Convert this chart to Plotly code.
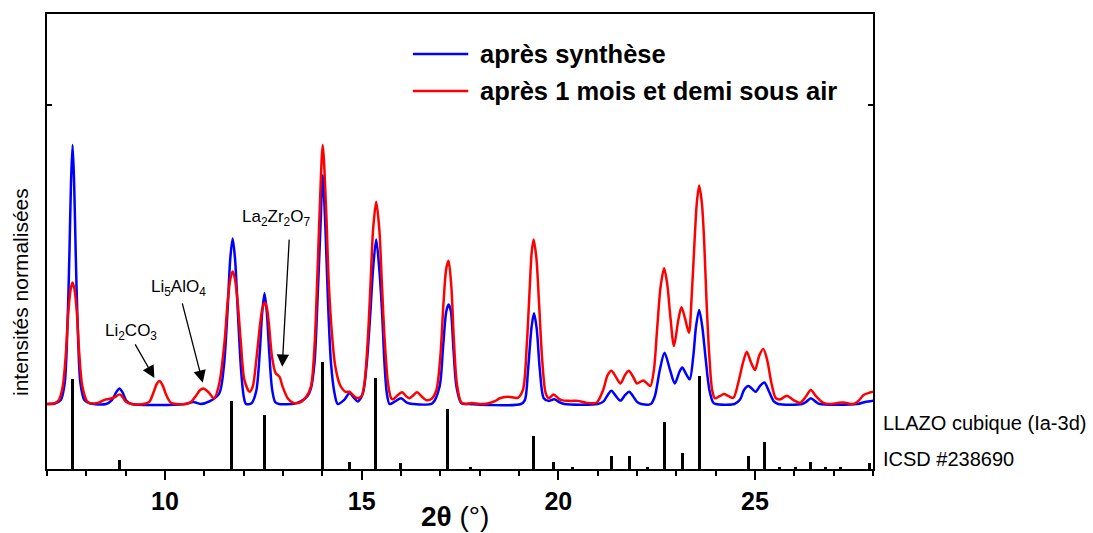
import plotly.graph_objects as go

# Diffractogram "après synthèse" (normalised intensity vs 2θ)
blue_x = [7.00, 7.20, 7.35, 7.45, 7.52, 7.57, 7.61, 7.65, 7.69, 7.73, 7.78, 7.85, 7.95, 8.10,
          8.50, 8.65, 8.76, 8.84, 8.92, 9.02, 9.15, 10.50, 10.72, 10.90,
          11.13, 11.38, 11.50, 11.59, 11.66, 11.72, 11.78, 11.85, 11.93, 12.00, 12.06,
          12.20, 12.32, 12.41, 12.47, 12.53, 12.59, 12.65, 12.72, 12.80, 12.90,
          13.30, 13.45, 13.62, 13.71, 13.80, 13.88, 13.95, 14.01, 14.08, 14.14, 14.22, 14.31, 14.39,
          14.55, 14.69, 14.80, 14.90,
          15.03, 15.13, 15.22, 15.29, 15.37, 15.45, 15.52, 15.58, 15.64, 15.71,
          15.85, 16.00, 16.15, 16.30,
          16.80, 16.98, 17.07, 17.15, 17.21, 17.27, 17.33, 17.41, 17.53, 17.70,
          19.05, 19.15, 19.23, 19.32, 19.38, 19.45, 19.53, 19.63, 19.75, 19.90, 20.05, 20.15,
          21.00, 21.15, 21.26, 21.35, 21.45, 21.58, 21.70, 21.80, 21.90, 22.00, 22.11,
          22.35, 22.45, 22.58, 22.70, 22.84, 22.96, 23.08, 23.15, 23.26, 23.34,
          23.43, 23.50, 23.58, 23.66, 23.74, 23.84, 23.94, 24.00,
          24.48, 24.62, 24.72, 24.83, 24.93, 25.02, 25.13, 25.24, 25.36, 25.48, 25.59,
          26.20, 26.30, 26.42, 26.55, 26.65, 27.60, 27.80, 28.00]
blue_y = [0.000, 0.002, 0.015, 0.080, 0.300, 0.580, 0.850, 0.996, 0.850, 0.580, 0.300, 0.080, 0.015, 0.002,
          0.000, 0.015, 0.045, 0.060, 0.045, 0.012, 0.000, 0.000, 0.008, 0.000,
          0.010, 0.041, 0.150, 0.360, 0.560, 0.637, 0.560, 0.360, 0.140, 0.030, 0.000,
          0.003, 0.050, 0.200, 0.350, 0.426, 0.350, 0.200, 0.060, 0.008, 0.000,
          0.002, 0.010, 0.030, 0.060, 0.157, 0.410, 0.670, 0.880, 0.670, 0.410, 0.157, 0.041, 0.000,
          0.015, 0.041, 0.025, 0.010,
          0.041, 0.157, 0.349, 0.520, 0.633, 0.515, 0.349, 0.157, 0.041, 0.000,
          0.010, 0.022, 0.005, 0.000,
          0.003, 0.067, 0.220, 0.355, 0.383, 0.355, 0.220, 0.067, 0.004, 0.000,
          0.000, 0.015, 0.131, 0.297, 0.349, 0.290, 0.131, 0.022, 0.012, 0.018, 0.005, 0.000,
          0.000, 0.010, 0.036, 0.051, 0.033, 0.013, 0.035, 0.047, 0.030, 0.008, 0.000,
          0.000, 0.028, 0.131, 0.197, 0.131, 0.079, 0.124, 0.140, 0.112, 0.095,
          0.182, 0.297, 0.362, 0.297, 0.182, 0.054, 0.005, 0.000,
          0.000, 0.017, 0.054, 0.069, 0.058, 0.047, 0.070, 0.083, 0.047, 0.010, 0.000,
          0.000, 0.008, 0.022, 0.008, 0.000, 0.000, 0.008, 0.013]

# Diffractogram "après 1 mois et demi sous air"
red_x = [7.00, 7.20, 7.30, 7.40, 7.48, 7.54, 7.60, 7.65, 7.70, 7.76, 7.82, 7.90, 8.03, 8.20,
         8.33, 8.46, 8.60, 8.72, 8.85, 8.93, 9.00, 9.16,
         9.45, 9.60, 9.70, 9.79, 9.86, 9.94, 10.03, 10.15, 10.30,
         10.53, 10.66, 10.79, 10.88, 10.97, 11.06, 11.13, 11.25,
         11.38, 11.51, 11.59, 11.66, 11.72, 11.78, 11.85, 11.93, 12.02, 12.15,
         12.23, 12.33, 12.42, 12.48, 12.54, 12.59, 12.64, 12.72, 12.81, 12.91, 12.99, 13.12, 13.25,
         13.42, 13.59, 13.71, 13.80, 13.87, 13.93, 14.01, 14.10, 14.16, 14.25, 14.33, 14.45,
         14.59, 14.69, 14.86, 14.99,
         15.07, 15.16, 15.23, 15.29, 15.37, 15.45, 15.51, 15.58, 15.67, 15.75,
         15.80, 15.92, 16.03, 16.13, 16.22, 16.32, 16.41, 16.52, 16.64, 16.78,
         16.90, 17.00, 17.08, 17.15, 17.21, 17.28, 17.34, 17.42, 17.53, 17.64,
         17.80, 18.00, 18.20, 18.40, 18.51, 18.72, 18.97,
         19.10, 19.20, 19.27, 19.32, 19.37, 19.44, 19.51, 19.59, 19.68, 19.76,
         19.88, 20.00, 20.08, 20.30, 20.50, 20.70, 20.97,
         21.14, 21.25, 21.35, 21.46, 21.58, 21.69, 21.79, 21.90, 22.00, 22.08, 22.16, 22.25, 22.34,
         22.43, 22.51, 22.60, 22.69, 22.77, 22.84, 22.94, 23.05, 23.13, 23.22, 23.32,
         23.39, 23.46, 23.52, 23.58, 23.65, 23.71, 23.77, 23.84, 23.91, 23.98,
         24.10, 24.21, 24.33, 24.45,
         24.57, 24.69, 24.79, 24.89, 25.00, 25.11, 25.21, 25.31, 25.42, 25.53,
         25.65, 25.81, 25.98, 26.15, 26.30, 26.42, 26.55, 26.74, 26.90,
         27.10, 27.25, 27.50, 27.65, 27.76, 27.88, 28.00]
red_y = [0.000, 0.003, 0.015, 0.067, 0.195, 0.349, 0.440, 0.467, 0.440, 0.349, 0.195, 0.067, 0.008, 0.002,
         0.006, 0.016, 0.020, 0.026, 0.037, 0.025, 0.010, 0.000,
         0.000, 0.008, 0.041, 0.077, 0.088, 0.072, 0.035, 0.005, 0.000,
         0.000, 0.008, 0.032, 0.052, 0.060, 0.052, 0.041, 0.022,
         0.079, 0.233, 0.387, 0.480, 0.510, 0.480, 0.387, 0.233, 0.092, 0.047,
         0.067, 0.182, 0.310, 0.370, 0.390, 0.370, 0.310, 0.182, 0.120, 0.105, 0.067, 0.022, 0.005,
         0.005, 0.028, 0.067, 0.220, 0.477, 0.733, 0.996, 0.733, 0.477, 0.259, 0.144, 0.073,
         0.047, 0.047, 0.024, 0.028,
         0.079, 0.259, 0.477, 0.670, 0.778, 0.670, 0.477, 0.259, 0.079, 0.022,
         0.018, 0.035, 0.045, 0.030, 0.022, 0.035, 0.045, 0.030, 0.015, 0.020,
         0.054, 0.182, 0.387, 0.520, 0.551, 0.451, 0.259, 0.079, 0.006, 0.000,
         0.004, 0.000, 0.002, 0.012, 0.022, 0.028, 0.024,
         0.054, 0.233, 0.438, 0.579, 0.633, 0.565, 0.387, 0.169, 0.041, 0.022,
         0.037, 0.022, 0.015, 0.012, 0.012, 0.005, 0.005,
         0.054, 0.110, 0.128, 0.105, 0.079, 0.110, 0.128, 0.105, 0.079, 0.085, 0.090, 0.080, 0.069,
         0.131, 0.285, 0.451, 0.522, 0.460, 0.349, 0.223, 0.323, 0.372, 0.330, 0.274,
         0.413, 0.618, 0.772, 0.840, 0.772, 0.618, 0.387, 0.182, 0.054, 0.022,
         0.030, 0.038, 0.030, 0.024,
         0.079, 0.156, 0.201, 0.163, 0.131, 0.187, 0.212, 0.169, 0.079, 0.022,
         0.018, 0.032, 0.015, 0.005, 0.030, 0.054, 0.030, 0.004, 0.000,
         0.004, 0.006, 0.000, 0.015, 0.035, 0.042, 0.047]

# Reference pattern LLAZO cubique (Ia-3d), ICSD #238690: 2θ positions and relative intensities (%)
ref_x = [7.64, 8.84, 11.70, 12.53, 14.01, 14.69, 15.35, 15.99, 17.19, 17.77, 19.37, 19.88, 20.37,
         21.34, 21.80, 22.27, 22.70, 23.15, 23.58, 24.83, 25.24, 25.63, 26.02, 26.41, 26.80, 27.17, 27.91]
ref_i = [84, 8, 64, 51, 100, 7, 85, 6, 56, 2, 31, 7, 2,
         12, 12, 2, 44, 15, 87, 12, 25, 2, 2, 7, 2, 2, 6]

series_names = ["après synthèse", "après 1 mois et demi sous air"]
series_colors = ["#0000FF", "#FF0000"]
x_ticks = [10, 15, 20, 25]

fig = go.Figure()

fig.add_trace(go.Bar(x=ref_x, y=ref_i, width=0.075, marker=dict(color="black", line=dict(width=0)),
                     yaxis="y2", showlegend=False))
fig.add_trace(go.Scatter(x=blue_x, y=blue_y, mode="lines", name=series_names[0],
                         line=dict(color=series_colors[0], width=2.5, shape="spline", smoothing=0.8),
                         showlegend=False))
fig.add_trace(go.Scatter(x=red_x, y=red_y, mode="lines", name=series_names[1],
                         line=dict(color=series_colors[1], width=2.5, shape="spline", smoothing=0.8),
                         showlegend=False))

FONT = "Liberation Sans, Arial, sans-serif"

fig.update_layout(
    width=1093, height=533,
    margin=dict(l=47, r=220, t=14, b=64),
    paper_bgcolor="white", plot_bgcolor="white",
    font=dict(family=FONT, color="black"),
    bargap=0,
    xaxis=dict(range=[7, 28], tickvals=x_ticks, ticks="outside", ticklen=9, tickwidth=2,
               tickcolor="black", showline=True, linewidth=2, linecolor="black", mirror=True,
               showgrid=False, zeroline=False, automargin=False,
               tickfont=dict(size=25, family=FONT, weight="bold"),
               minor=dict(dtick=1, tick0=7, ticks="outside", ticklen=5, tickwidth=2, tickcolor="black")),
    yaxis=dict(range=[-0.25, 1.5], tickvals=[1.15], ticks="inside", ticklen=5, tickwidth=1.5,
               tickcolor="black", showticklabels=False, showline=True, linewidth=2, automargin=False,
               linecolor="black", mirror="ticks", showgrid=False, zeroline=False),
    yaxis2=dict(range=[0, 426.4], overlaying="y", visible=False, showgrid=False, zeroline=False),
)

# X axis title
fig.add_annotation(xref="paper", yref="paper", x=0.494, y=-0.104, text="<b>2θ</b> (°)",
                   showarrow=False, xanchor="center", yanchor="middle",
                   font=dict(size=28, family=FONT, color="black"))

# Legend drawn as line samples with bold labels
legend_rows = [0.912, 0.831]
for name, color, yp in zip(series_names, series_colors, legend_rows):
    fig.add_shape(type="line", xref="paper", yref="paper", x0=0.443, x1=0.510, y0=yp, y1=yp,
                  line=dict(color=color, width=2.5))
    fig.add_annotation(xref="paper", yref="paper", x=0.522, y=yp, text="<b>%s</b>" % name,
                       showarrow=False, xanchor="left", yanchor="middle",
                       font=dict(size=25.5, family=FONT, color="black"))

# Impurity phases with arrows
phases = [
    ("Li<sub>2</sub>CO<sub>3</sub>", 9.14, 0.277, 9.22, 0.235, 9.73, 0.10),
    ("Li<sub>5</sub>AlO<sub>4</sub>", 10.34, 0.446, 10.43, 0.393, 10.96, 0.082),
    ("La<sub>2</sub>Zr<sub>2</sub>O<sub>7</sub>", 12.81, 0.715, 13.16, 0.638, 12.98, 0.143),
]
for label, tx, ty, axx, ayy, hx, hy in phases:
    fig.add_annotation(x=tx, y=ty, xref="x", yref="y", text=label, showarrow=False,
                       font=dict(size=17, family=FONT, color="black"))
    fig.add_annotation(x=hx, y=hy, xref="x", yref="y", ax=axx, ay=ayy, axref="x", ayref="y",
                       text="", showarrow=True, arrowhead=2, arrowsize=1.9, arrowwidth=1.3,
                       arrowcolor="black")

# Labels of the reference pattern
fig.add_annotation(xref="paper", yref="paper", x=1.0097, y=0.101, text="LLAZO cubique (Ia-3d)",
                   showarrow=False, xanchor="left", yanchor="middle",
                   font=dict(size=20, family=FONT, color="black"))
fig.add_annotation(xref="paper", yref="paper", x=1.0097, y=0.022, text="ICSD #238690",
                   showarrow=False, xanchor="left", yanchor="middle",
                   font=dict(size=20, family=FONT, color="black"))

# Y axis title
fig.add_annotation(xref="paper", yref="paper", x=-0.0327, y=0.389, text="intensités normalisées",
                   showarrow=False, textangle=-90, xanchor="center", yanchor="middle",
                   font=dict(size=21, family=FONT, color="black"))

fig.write_html("out.html")
